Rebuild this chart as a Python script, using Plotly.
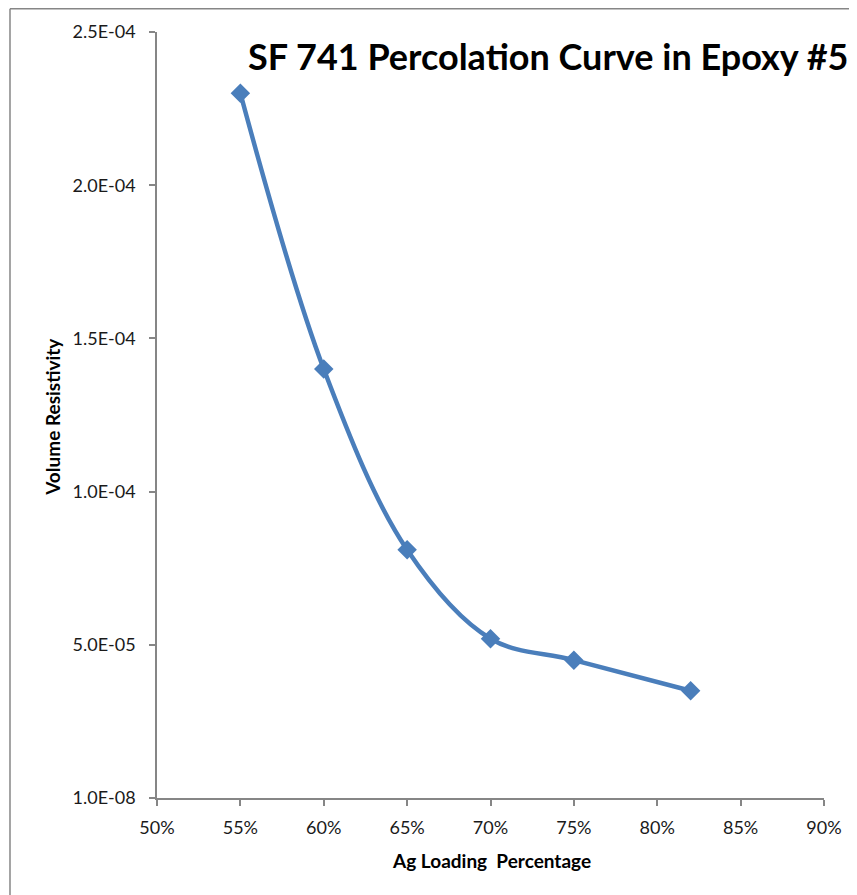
import plotly.graph_objects as go

ag_loading_pct = [55, 60, 65, 70, 75, 82]
volume_resistivity = [2.30e-4, 1.40e-4, 8.1e-5, 5.2e-5, 4.5e-5, 3.5e-5]

y_tickvals = [1e-8, 5e-5, 1e-4, 1.5e-4, 2e-4, 2.5e-4]
y_ticktext = ["1.0E-08", "5.0E-05", "1.0E-04", "1.5E-04", "2.0E-04", "2.5E-04"]
x_tickvals = [50, 55, 60, 65, 70, 75, 80, 85, 90]
x_ticktext = ["50%", "55%", "60%", "65%", "70%", "75%", "80%", "85%", "90%"]

blue = "#4A7EBB"
axis_col = "#868686"
font_fam = "Lato, 'Open Sans', sans-serif"

fig = go.Figure()
fig.add_trace(go.Scatter(
    x=ag_loading_pct, y=volume_resistivity,
    mode="lines+markers",
    line=dict(color=blue, width=4.5, shape="spline", smoothing=1.0),
    marker=dict(symbol="diamond", size=15, color=blue),
    showlegend=False,
))

fig.update_layout(
    width=849, height=887,
    margin=dict(l=149, r=33, t=24, b=97),
    paper_bgcolor="white", plot_bgcolor="white",
    font=dict(family=font_fam, color="#000000", size=18),
    xaxis=dict(
        range=[50, 90], tickvals=x_tickvals, ticktext=x_ticktext,
        showgrid=False, zeroline=False, showline=True, linecolor=axis_col, linewidth=1.5,
        ticks="outside", ticklen=6, tickcolor=axis_col, tickwidth=1.5,
        ticklabelstandoff=7,
        tickfont=dict(size=18, family=font_fam, color="#1a1a1a"),
    ),
    yaxis=dict(
        range=[1e-8, 2.5e-4], tickvals=y_tickvals, ticktext=y_ticktext,
        showgrid=False, zeroline=False, showline=True, linecolor=axis_col, linewidth=1.5,
        ticks="outside", ticklen=6, tickcolor=axis_col, tickwidth=1.5,
        ticklabelstandoff=10,
        tickfont=dict(size=18, family=font_fam, color="#1a1a1a"),
    ),
    annotations=[
        dict(text="<b>SF 741 Percolation Curve in Epoxy #5</b>",
             xref="paper", yref="paper", x=0.586, y=0.9687,
             xanchor="center", yanchor="middle", showarrow=False,
             font=dict(size=36, family=font_fam, color="#000000")),
        dict(text="<b>Ag Loading  Percentage</b>",
             xref="paper", yref="paper", x=0.502, y=-0.081,
             xanchor="center", yanchor="middle", showarrow=False,
             font=dict(size=19, family=font_fam, color="#000000")),
        dict(text="<b>Volume Resistivity</b>",
             xref="paper", yref="paper", x=-0.157, y=0.498,
             xanchor="center", yanchor="middle", showarrow=False, textangle=-90,
             font=dict(size=19, family=font_fam, color="#000000")),
    ],
    shapes=[
        dict(type="line", xref="paper", yref="paper", x0=-0.2204, x1=-0.2204, y0=-0.2, y1=1.0305,
             line=dict(color=axis_col, width=1.5)),
        dict(type="line", xref="paper", yref="paper", x0=-0.2204, x1=1.1, y0=1.0305, y1=1.0305,
             line=dict(color=axis_col, width=1.5)),
    ],
)

fig.write_html("out.html")
